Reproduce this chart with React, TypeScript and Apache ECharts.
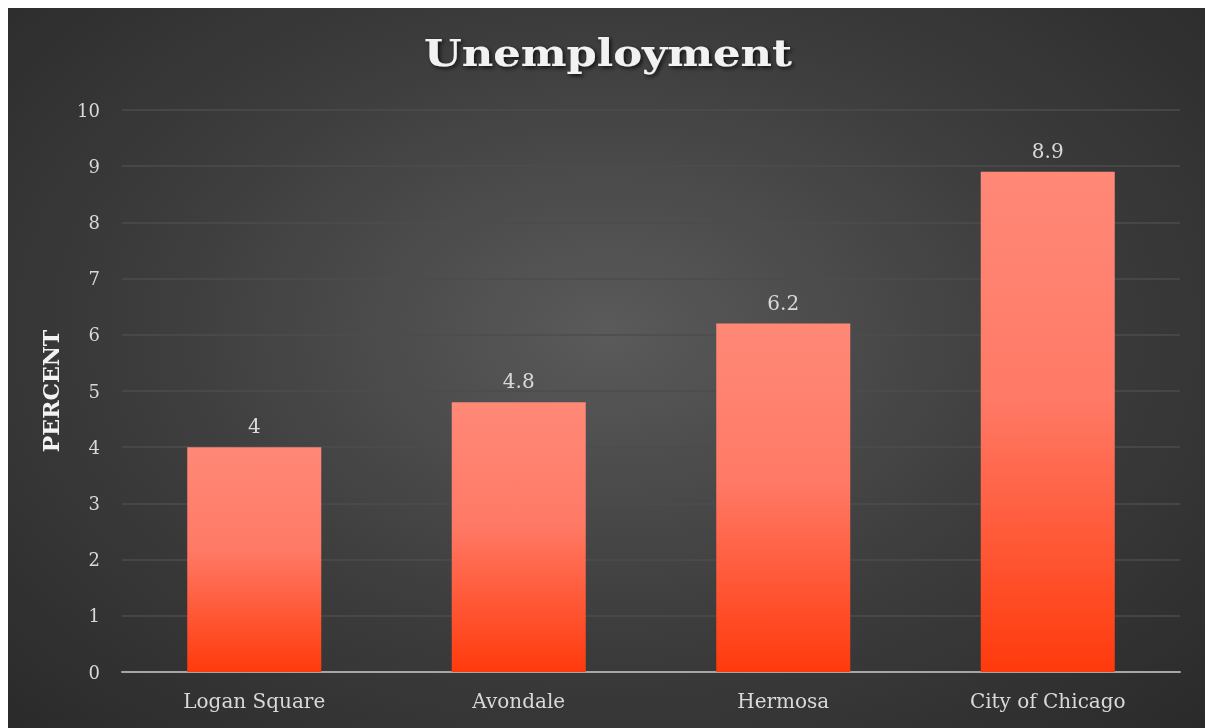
import React, { useEffect, useRef } from "react";
import * as echarts from "echarts";

const categories = ["Logan Square", "Avondale", "Hermosa", "City of Chicago"];
const values = [4, 4.8, 6.2, 8.9];
const titleText = "Unemployment";
const yAxisName = "PERCENT";

const FONT = '"DejaVu Serif", Georgia, serif';

export default function App() {
  const ref = useRef<HTMLDivElement>(null);
  useEffect(() => {
    if (!ref.current) return;
    const chart = echarts.init(ref.current, null, { renderer: "svg" });
    chart.setOption({
      animation: false,
      graphic: [
        {
          type: "text",
          x: 600,
          y: 45,
          scaleX: 1.17,
          style: {
            text: titleText,
            align: "center",
            verticalAlign: "middle",
            font: 'bold 37px "DejaVu Serif", Georgia, serif',
            fill: "#f2f2f2",
            shadowColor: "rgba(0,0,0,0.75)",
            shadowBlur: 4,
            shadowOffsetX: 2,
            shadowOffsetY: 2,
            textShadowColor: "rgba(0,0,0,0.75)",
            textShadowBlur: 4,
            textShadowOffsetX: 2,
            textShadowOffsetY: 2,
          },
        },
      ],
      grid: { left: 114, right: 25, top: 102, bottom: 56, containLabel: false },
      xAxis: {
        type: "category",
        data: categories,
        axisLine: { lineStyle: { color: "#a6a6a6", width: 2 } },
        axisTick: { show: false },
        axisLabel: {
          fontFamily: FONT,
          fontSize: 20,
          color: "#d9d9d9",
          margin: 19,
        },
      },
      yAxis: {
        type: "value",
        min: 0,
        max: 10,
        interval: 1,
        name: yAxisName,
        nameLocation: "middle",
        nameGap: 60,
        nameTextStyle: {
          fontFamily: FONT,
          fontSize: 22,
          fontWeight: "bold",
          color: "#f2f2f2",
        },
        axisLine: { show: false },
        axisTick: { show: false },
        splitLine: { lineStyle: { color: "#4d4d4d", width: 1.5 } },
        axisLabel: {
          fontFamily: FONT,
          fontSize: 18,
          color: "#d9d9d9",
          margin: 22,
        },
      },
      series: [
        {
          type: "bar",
          data: values,
          barWidth: 134,
          itemStyle: {
            color: new echarts.graphic.LinearGradient(0, 0, 0, 1, [
              { offset: 0, color: "#ff8877" },
              { offset: 0.45, color: "#ff7a66" },
              { offset: 1, color: "#ff3a0c" },
            ]),
          },
          label: {
            show: true,
            position: "top",
            distance: 11,
            fontFamily: FONT,
            fontSize: 20,
            color: "#d9d9d9",
          },
        },
      ],
    });
    return () => chart.dispose();
  }, []);
  return (
    <div
      ref={ref}
      style={{
        position: "fixed",
        left: 8,
        top: 8,
        width: 1197,
        height: 720,
        background:
          "radial-gradient(ellipse at 50% 45%, #5a5a5a 0%, #3c3c3c 55%, #2a2a2a 100%)",
      }}
    />
  );
}
